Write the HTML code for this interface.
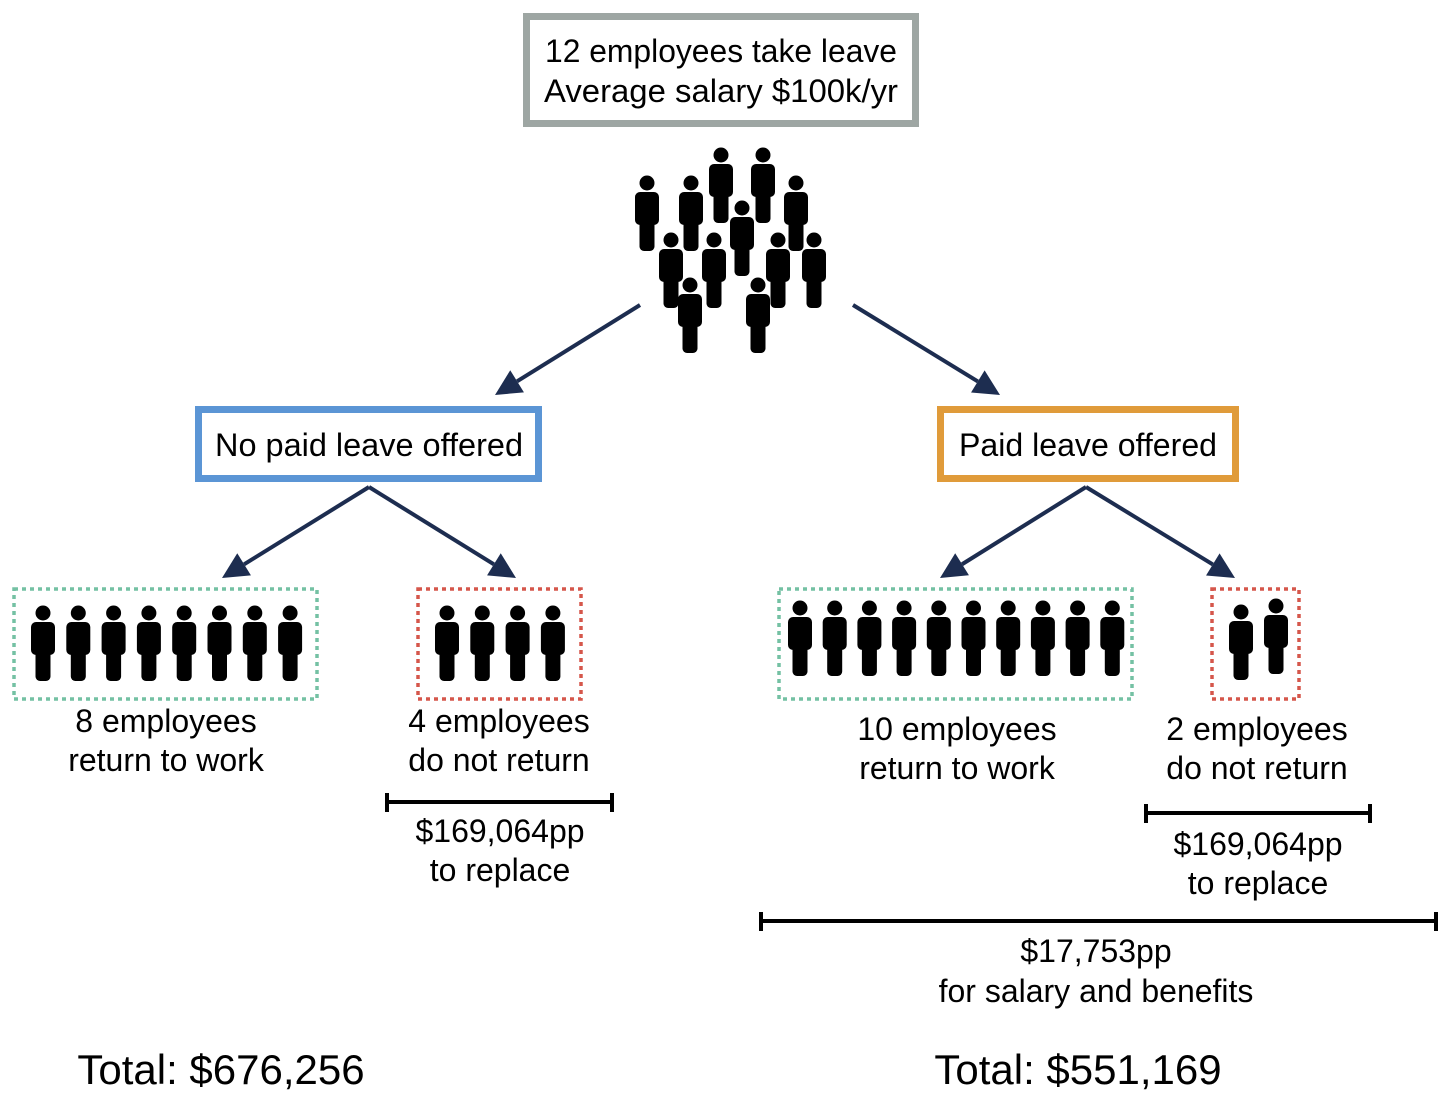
<!DOCTYPE html>
<html><head><meta charset="utf-8"><style>
html,body{margin:0;padding:0;background:#fff;}
svg{display:block;font-family:"Liberation Sans",sans-serif;}
text{fill:#000;font-size:32px;text-anchor:middle;}
</style></head><body>
<svg width="1448" height="1104" viewBox="0 0 1448 1104">
<defs>
<symbol id="p" overflow="visible">
<circle cx="0" cy="0" r="7.5"/>
<rect x="-12" y="9" width="24" height="33" rx="5"/>
<rect x="-7.5" y="34" width="15" height="34" rx="4.5"/>
</symbol>
</defs>

<g>
<rect x="526.5" y="16.5" width="389" height="107" fill="none" stroke="#9ea6a3" stroke-width="7"/>
<text x="721" y="62" textLength="352" lengthAdjust="spacingAndGlyphs">12 employees take leave</text>
<text x="721" y="102" textLength="354" lengthAdjust="spacingAndGlyphs">Average salary $100k/yr</text>
</g>

<g id="crowd"></g>

<g stroke="#1d2d50" stroke-width="4" fill="#1d2d50" id="arrows"></g>

<g>
<rect x="198.5" y="409.5" width="340" height="69" fill="none" stroke="#5b95d5" stroke-width="7"/>
<text x="369" y="456" textLength="308" lengthAdjust="spacingAndGlyphs">No paid leave offered</text>
</g>
<g>
<rect x="940.5" y="409.5" width="295" height="69" fill="none" stroke="#e09b3a" stroke-width="7"/>
<text x="1088" y="456" textLength="258" lengthAdjust="spacingAndGlyphs">Paid leave offered</text>
</g>

<g fill="none" stroke-width="3.5" stroke-dasharray="4 4">
<rect x="14" y="589" width="303" height="110" stroke="#74c1a3"/>
<rect x="418" y="589" width="163" height="110" stroke="#d5574b"/>
<rect x="779" y="589" width="353" height="110" stroke="#74c1a3"/>
<rect x="1212" y="589" width="87" height="110" stroke="#d5574b"/>
</g>
<g id="rows"></g>

<g>
<text x="166" y="732">8 employees</text>
<text x="166" y="771">return to work</text>
<text x="499" y="732">4 employees</text>
<text x="499" y="771">do not return</text>
<text x="957" y="740">10 employees</text>
<text x="957" y="779">return to work</text>
<text x="1257" y="740">2 employees</text>
<text x="1257" y="779">do not return</text>
<text x="500" y="842">$169,064pp</text>
<text x="500" y="881">to replace</text>
<text x="1258" y="855">$169,064pp</text>
<text x="1258" y="894">to replace</text>
<text x="1096" y="962">$17,753pp</text>
<text x="1096" y="1002">for salary and benefits</text>
<text x="221" y="1084" style="font-size:42px">Total: $676,256</text>
<text x="1078" y="1084" style="font-size:42px">Total: $551,169</text>
</g>

<g stroke="#000" stroke-width="4">
<path d="M386 802H613M387 793V812M612 793V812"/>
<path d="M1145 813H1371M1146 804V823M1370 804V823"/>
<path d="M760 921H1437M761 912V931M1436 912V931"/>
</g>
</svg>
<script>
const NS='http://www.w3.org/2000/svg';
const crowdHeads=[[647,183],[691,183],[721,155],[763,155],[796,183],[742,208],[671,240],[714,240],[778,240],[814,240],[690,285],[758,285]];
const rowsData=[[43,613,8,35.3],[447,613,4,35.3],[800,608,10,34.7],[1241,612,1,0],[1276,606,1,0]];
function person(g,x,y){
  const u=document.createElementNS(NS,'use');
  u.setAttribute('href','#p');u.setAttribute('x',x);u.setAttribute('y',y);
  
  
  g.appendChild(u);
}
const cg=document.getElementById('crowd');
crowdHeads.forEach(h=>person(cg,h[0],h[1]));
const rg=document.getElementById('rows');
rowsData.forEach(r=>{for(let i=0;i<r[2];i++)person(rg,r[0]+i*r[3],r[1]);});
const arrows=[[640,305,495,395],[853,305,1000,395],[369,487,222,578],[369,487,516,578],[1086,487,940,578],[1086,487,1235,578]];
const ag=document.getElementById('arrows');
arrows.forEach(a=>{
  const [x1,y1,x2,y2]=a;const dx=x2-x1,dy=y2-y1,L=Math.hypot(dx,dy),ux=dx/L,uy=dy/L;
  const bx=x2-ux*26,by=y2-uy*26;
  const l=document.createElementNS(NS,'line');
  l.setAttribute('x1',x1);l.setAttribute('y1',y1);l.setAttribute('x2',bx);l.setAttribute('y2',by);
  
  
  ag.appendChild(l);
  const p=document.createElementNS(NS,'polygon');
  p.setAttribute('points',`${x2},${y2} ${bx-uy*13},${by+ux*13} ${bx+uy*13},${by-ux*13}`);
  p.setAttribute('stroke','none');
  
  
  ag.appendChild(p);
});
</script>
</body></html>
